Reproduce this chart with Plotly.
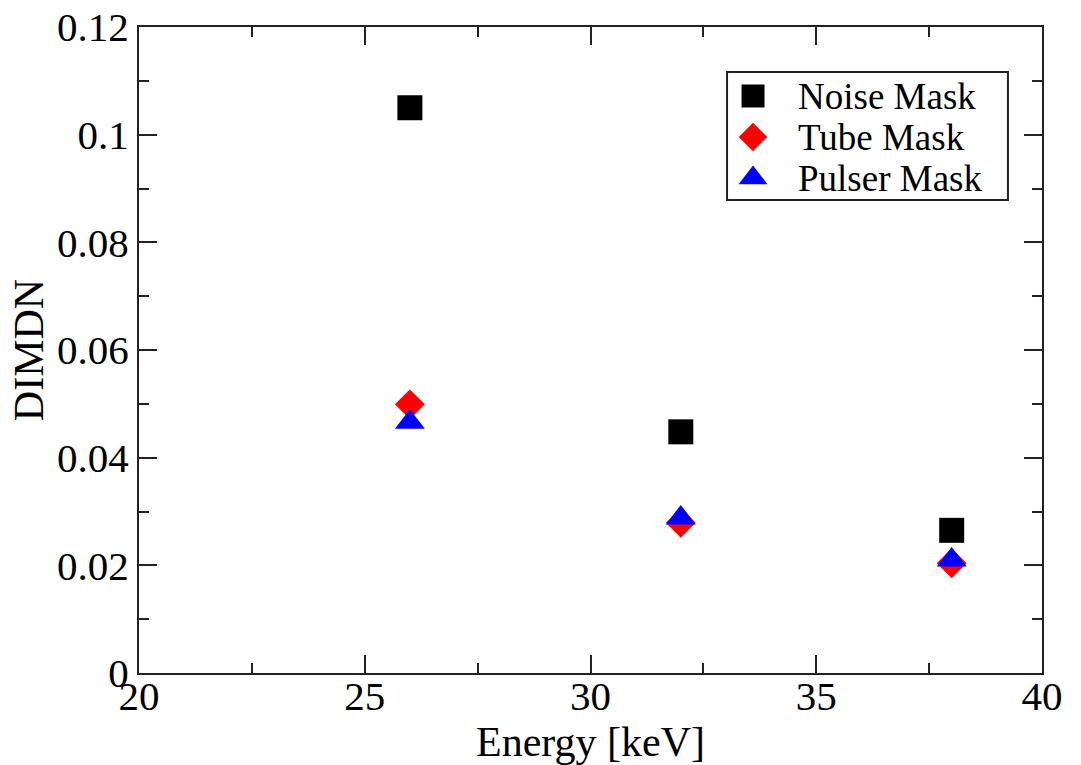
import plotly.graph_objects as go

energy = [26, 32, 38]
noise_mask = [0.105, 0.0448, 0.0265]
tube_mask = [0.0499, 0.0279, 0.0204]
pulser_mask = [0.0466, 0.0288, 0.0210]
series_names = ["Noise Mask", "Tube Mask", "Pulser Mask"]

FONT = "Liberation Serif"
AX = "#222222"

symbols = ["square", "diamond", "triangle-up"]
colors = ["black", "red", "blue"]
sizes = [25, 23, 26]
legend_sizes = [23, 22, 25]

fig = go.Figure()
for name, ys, sym, col, sz in zip(series_names, [noise_mask, tube_mask, pulser_mask], symbols, colors, sizes):
    fig.add_trace(go.Scatter(x=energy, y=ys, mode="markers", name=name, showlegend=False,
                             marker=dict(symbol=sym, size=sz, color=col, line=dict(width=0))))

# custom legend (drawn in an overlay axis spanning the plot area, 0..1)
leg_x0, leg_x1, leg_y0, leg_y1 = 0.6512, 0.9623, 0.7322, 0.9303
row_y = [0.8932, 0.8297, 0.7663]
sym_x = 0.680
txt_x = 0.7276
for name, sym, col, sz, ry in zip(series_names, symbols, colors, legend_sizes, row_y):
    fig.add_trace(go.Scatter(x=[sym_x], y=[ry], xaxis="x2", yaxis="y2", mode="markers",
                             showlegend=False, hoverinfo="skip", cliponaxis=False,
                             marker=dict(symbol=sym, size=sz, color=col, line=dict(width=0))))
legend_text = "<br>".join('<span style="font-size:37px">%s</span>' % n for n in series_names)
fig.add_annotation(x=txt_x, y=row_y[1], xref="x2", yref="y2", text=legend_text, showarrow=False,
                   xanchor="left", yanchor="middle", align="left",
                   font=dict(family=FONT, size=31.5, color="black"))
fig.add_shape(type="rect", xref="x2", yref="y2", x0=leg_x0, x1=leg_x1, y0=leg_y0, y1=leg_y1,
              line=dict(color=AX, width=2), fillcolor="white", layer="below")

axis_common = dict(
    showgrid=False, zeroline=False, showline=True, linecolor=AX, linewidth=2,
    mirror="allticks", ticks="inside", ticklen=18, tickwidth=2, tickcolor=AX,
    tickfont=dict(family=FONT, size=41, color="black"), automargin=False,
)

fig.update_layout(
    width=1081, height=765,
    margin=dict(l=139, r=39, t=27, b=92),
    paper_bgcolor="white", plot_bgcolor="white",
    showlegend=False,
    xaxis=dict(range=[20, 40], dtick=5, tick0=20,
               minor=dict(dtick=2.5, ticks="inside", ticklen=10, tickwidth=2, tickcolor=AX, showgrid=False),
               title=dict(text="Energy [keV]", font=dict(family=FONT, size=42, color="black"), standoff=19),
               ticklabelstandoff=-14, **axis_common),
    yaxis=dict(range=[0, 0.12], dtick=0.02, tick0=0,
               minor=dict(dtick=0.01, ticks="inside", ticklen=10, tickwidth=2, tickcolor=AX, showgrid=False),
               title=dict(text="DIMDN", font=dict(family=FONT, size=42, color="black"), standoff=0),
               ticklabelstandoff=0, **axis_common),
    xaxis2=dict(overlaying="x", range=[0, 1], visible=False, anchor="y2"),
    yaxis2=dict(overlaying="y", range=[0, 1], visible=False, anchor="x2"),
)

fig.write_html("out.html")
